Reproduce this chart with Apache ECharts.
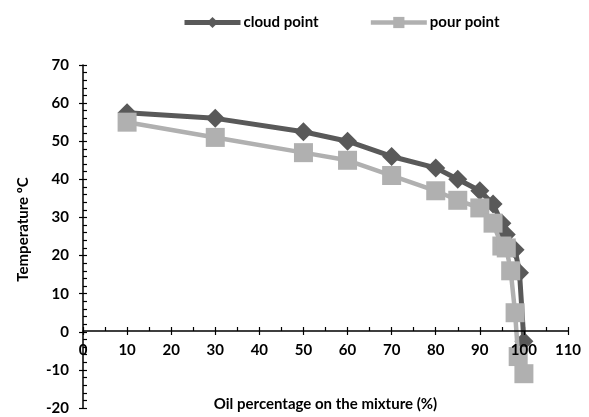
<!DOCTYPE html>
<html>
<head>
<meta charset="utf-8">
<script src="https://cdn.jsdelivr.net/npm/echarts@6/dist/echarts.min.js"></script>
<style>
html,body{margin:0;padding:0;background:#fff;}
#chart{width:589px;height:417px;}
</style>
</head>
<body>
<div id="chart"></div>
<script>
const cloudX = [10, 30, 50, 60, 70, 80, 85, 90, 93, 95, 96, 98, 99, 100];
const cloudY = [57.5, 56, 52.5, 50, 46, 43, 40, 37, 33.5, 28.5, 25.5, 21.5, 15.5, -2.5];
const pourX = [10, 30, 50, 60, 70, 80, 85, 90, 93, 95, 96, 97, 98, 98.7, 100];
const pourY = [55, 51, 47, 45, 41, 37, 34.5, 32.5, 28.5, 22.5, 22, 16, 5, -6.5, -11];
const seriesNames = ['cloud point', 'pour point'];
const xTitle = 'Oil percentage on the mixture (%)';
const yTitle = 'Temperature ºC';

const FONT = 'Lato';
const dark = '#595959';
const light = '#b0b0b0';

function pairs(xs, ys) { return xs.map((x, i) => [x, ys[i]]); }

const chart = echarts.init(document.getElementById('chart'), null, {renderer: 'canvas'});
const axisLbl = {fontFamily: FONT, fontWeight: 'bold', fontSize: 15, color: '#000'};
const tickStyle = {color: '#000', width: 1.2};
chart.setOption({
  animation: false,
  backgroundColor: '#fff',
  legend: {
    top: 10,
    left: 177,
    itemWidth: 56,
    itemHeight: 14,
    itemGap: 50,
    textStyle: {fontFamily: FONT, fontWeight: 'bold', fontSize: 15, color: '#000', padding: [0, 0, 0, -2]},
    data: [
      {name: seriesNames[0], lineStyle: {width: 5, color: dark}},
      {name: seriesNames[1], lineStyle: {width: 4.5, color: light}}
    ]
  },
  grid: [
    {left: 83, right: 21, top: 65, bottom: 9, containLabel: false, outerBoundsMode: 'none'},
    {left: 83, right: 21, top: 65, bottom: 86, containLabel: false, outerBoundsMode: 'none'}
  ],
  xAxis: [{
    gridIndex: 0, type: 'value', min: 0, max: 110, interval: 10, show: false
  }, {
    gridIndex: 1, type: 'value', min: 0, max: 110, interval: 10, position: 'bottom', z: 10,
    axisLine: {show: true, onZero: false, lineStyle: {color: '#000', width: 1.5}},
    axisTick: {show: true, inside: false, length: 4, lineStyle: tickStyle},
    splitLine: {show: false},
    axisLabel: Object.assign({margin: 12}, axisLbl),
    name: xTitle, nameLocation: 'middle', nameGap: 66,
    nameTextStyle: {fontFamily: FONT, fontWeight: 'bold', fontSize: 15, color: '#000'}
  }, {
    gridIndex: 1, type: 'value', min: 0, max: 110, interval: 10, position: 'bottom',
    axisLine: {show: false, onZero: false},
    axisTick: {show: true, inside: true, length: 4, lineStyle: tickStyle},
    minorTick: {show: true, splitNumber: 2, length: 4, lineStyle: tickStyle},
    splitLine: {show: false}, axisLabel: {show: false}
  }],
  yAxis: [{
    gridIndex: 0, type: 'value', min: -20, max: 70, interval: 10,
    axisLine: {show: true, onZero: false, lineStyle: {color: '#000', width: 1.5}},
    axisTick: {show: true, inside: false, length: 4, lineStyle: tickStyle},
    splitLine: {show: false},
    axisLabel: Object.assign({margin: 14}, axisLbl),
    name: yTitle, nameLocation: 'middle', nameGap: 52, nameRotate: 90,
    nameTextStyle: {fontFamily: FONT, fontWeight: 'bold', fontSize: 15, color: '#000', padding: [0, 0, 0, 14]}
  }, {
    gridIndex: 0, type: 'value', min: -20, max: 70, interval: 10, position: 'left',
    axisLine: {show: false, onZero: false},
    axisTick: {show: true, inside: true, length: 4, lineStyle: tickStyle},
    minorTick: {show: true, splitNumber: 5, length: 4, lineStyle: tickStyle},
    splitLine: {show: false}, axisLabel: {show: false}
  }, {
    gridIndex: 1, type: 'value', min: 0, max: 70, show: false
  }],
  series: [{
    name: seriesNames[0], type: 'line',
    xAxisIndex: 0, yAxisIndex: 0,
    data: pairs(cloudX, cloudY),
    symbol: 'diamond', symbolSize: 19,
    lineStyle: {color: dark, width: 5},
    itemStyle: {color: dark},
    z: 2
  }, {
    name: seriesNames[1], type: 'line',
    xAxisIndex: 0, yAxisIndex: 0,
    data: pairs(pourX, pourY),
    symbol: 'rect', symbolSize: 19,
    lineStyle: {color: light, width: 4.5},
    itemStyle: {color: light},
    z: 3
  }]
});
</script>
</body>
</html>
